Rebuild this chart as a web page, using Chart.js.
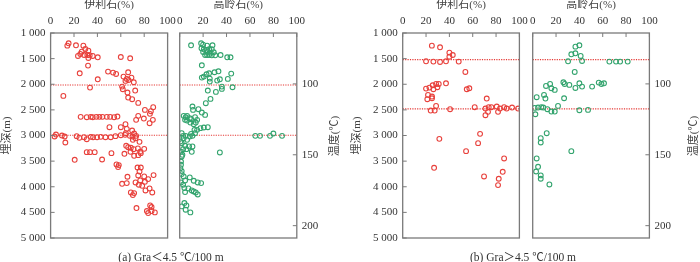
<!DOCTYPE html>
<html><head><meta charset="utf-8">
<script src="https://cdn.jsdelivr.net/npm/chart.js@4.4.0/dist/chart.umd.min.js"></script>
<style>
html,body{margin:0;padding:0;background:#fff;}
#wrap{position:relative;width:700px;height:262px;overflow:hidden;background:#fff;}
canvas{position:absolute;left:0;top:0;}
.t{position:absolute;font-family:'Liberation Serif','Noto Sans CJK SC',serif;font-size:11px;color:#333;white-space:nowrap;text-align:center;line-height:14px;height:14px;}
</style></head><body>
<div id="wrap">
<canvas id="c1" width="700" height="262"></canvas>
<canvas id="c2" width="700" height="262"></canvas>
<canvas id="c3" width="700" height="262"></canvas>
<canvas id="c4" width="700" height="262"></canvas>
<div class="t" id="tA" style="left:303.5px;top:128.5px;width:60px;transform:rotate(-90deg);color:#444;">温度(℃)</div>
<div class="t" id="tB" style="left:663px;top:128.5px;width:60px;transform:rotate(-90deg);color:#444;">温度(℃)</div>
<div class="t" id="capA" style="left:91px;top:249.5px;width:160px;font-size:11.5px;"></div>
<div class="t" id="capB" style="left:443px;top:249.5px;width:160px;font-size:11.5px;"></div>
</div>
<script>
// ---------------- data ----------------
const pctTicks = [0, 20, 40, 60, 80, 100];
const depthTicks = [1000, 1500, 2000, 2500, 3000, 3500, 4000, 4500, 5000];
const tempTicks = [100, 150, 200];
const xTitles = ['伊利石(%)', '高岭石(%)'];
const yTitle = '埋深(m)';
const captions = ['(a) Gra＜4.5 ℃/100 m', '(b) Gra＞4.5 ℃/100 m'];
const refLinesA = [2015, 2995];
const refLinesB = [1520, 2481];

// [percent, depth m]
const illiteA = [[15.4,1201],[14.3,1247],[21.7,1240],[28,1247],[29.7,1312],[26.6,1364],[32.3,1344],[25.4,1409],[28.6,1429],[31.4,1429],[33.4,1435],[36,1448],[40.3,1474],[23.4,1448],[32.3,1487],[60,1468],[68,1494],[32,1636],[24.9,1786],[49.1,1753],[53.4,1773],[56,1799],[66.3,1766],[62.3,1851],[65.1,1896],[69.1,1870],[64,1935],[66.6,1916],[71.1,1961],[40.3,1903],[61.1,2046],[61.7,2098],[72.3,2123],[65.7,2162],[33.7,2065],[10.9,2227],[66.3,2260],[69.7,2292],[74.9,2364],[87.7,2448],[80.6,2500],[85.7,2526],[84.9,2578],[74.9,2617],[79.7,2669],[73.1,2695],[84.6,2760],[87.4,2695],
[25.7,2636],[30.9,2643],[34.3,2636],[36,2643],[39.1,2636],[41.7,2636],[44.3,2636],[48,2636],[50.9,2636],[54.3,2643],[57.1,2630],
[50.3,2838],[64,2779],[60,2838],[65.1,2870],[69.7,2903],[71.4,2961],[64.3,2955],
[3.4,3020],[4.6,2981],[9.7,3000],[12,3020],[12.6,3137],[22.3,3013],[24.6,3046],[28.6,3033],[30.9,3072],[34.3,3026],[36.3,3033],[39.7,3033],[42.9,3026],[46.9,3033],[51.4,3033],[55.4,3013],[60,2994],[63.7,2987],[67.7,3007],[70,3020],[73.1,3007],[70.3,3085],[72.6,3052],[76,3124],
[64.6,3201],[66.3,3227],[68.6,3240],[70.9,3266],[68.3,3318],[74.6,3253],[76.6,3318],[80,3260],[71.4,3396],[74.9,3383],[77.1,3344],[63.1,3357],[52,3344],[30.9,3325],[33.7,3325],[37.7,3325],[20.6,3474],[44,3468],[56.3,3565],[58.3,3578],[57.7,3617],[74.3,3624],[77.1,3624],[76,3701],[74.9,3779],[80,3799],[83.4,3851],[76.6,3877],[72.6,3916],[80.6,3903],[75.4,3961],[78.3,3981],[65.7,3805],[61.1,3942],[65.1,3929],[84.6,4033],[86.9,4111],[81.1,4072],[68.6,4111],[71.4,4124],[70.3,4163],[88,3773],[73.4,4416],[85.1,4364],[86.3,4396],[82.3,4474],[83.4,4513],[86.3,4474],[89.1,4500]];

const kaoliniteA = [[9.7,1240],[18.3,1201],[20,1227],[23.4,1247],[28,1240],[18.6,1299],[20.6,1318],[22.9,1331],[25.1,1318],[27.4,1318],[20,1370],[23.4,1370],[25.7,1383],[29.1,1377],[21.7,1429],[23.4,1429],[25.1,1429],[27.4,1435],[30.3,1435],[34.9,1429],[40.6,1474],[43.4,1474],[18.9,1630],[18.9,1870],[20.6,1851],[22.9,1805],[25.1,1786],[29.7,1766],[33.1,1747],[25.7,1890],[25.7,1948],[32,1929],[34.3,1903],[41.1,1896],[44,1792],[36,2046],[36,2091],[45.1,2059],[30.9,2149],[24,2123],[26.3,2286],[22.3,2370],[10.9,2435],[11.4,2500],[16,2487],[18.9,2552],[3.4,2617],[5.1,2643],[6.3,2617],[8.6,2662],[4.6,2695],[6.3,2708],[9.7,2682],[13.1,2643],[14.9,2695],[21.7,2598],[13.7,2747],[9.1,2747],[12,2779],[17.7,2857],[20.6,2844],[24,2838],[14.9,2890],[12.6,2890],[9.7,2968],[13.1,2955],[1.7,2955],[2.9,3007],[5.1,3007],[8.6,3020],[10.9,3007],[3.4,3052],[6.3,3085],[0.6,3117],[1.7,3150],[4.6,3201],[8,3214],[10.9,3214],[2.9,3266],[5.7,3266],[10.3,3318],[1.1,3318],[2.3,3377],[1.7,3409],[34.3,3331],[1.1,3507],[1.1,3572],[0.6,3637],[1.7,3695],[1.7,3753],[3.4,3799],[8.6,3818],[4.6,3877],[12,3883],[15.4,3916],[18.3,3929],[1.1,3916],[2.9,3961],[4,4026],[7.4,4033],[10.3,4072],[12,4091],[13.7,4111],[15.4,4150],[4.6,4104],[4,4318],[5.7,4364],[1.7,4383],[5.1,4448],[9.1,4500],[64.6,3007],[68.6,3007],[77.1,3007],[80,2961],[87.4,3007]];

const illiteB = [[25,1247],[32,1279],[40,1383],[42.9,1429],[40,1461],[20,1552],[26.3,1558],[32,1565],[37.1,1552],[48,1558],[53.7,1760],[37.1,1981],[20,2085],[22.9,2065],[25.7,2020],[28.6,1994],[30.9,1994],[29.7,2059],[26.3,2098],[54.9,2098],[57.1,2078],[21.7,2208],[21.1,2292],[25.1,2240],[25.1,2273],[28.6,2422],[24,2513],[27.4,2513],[40.6,2487],[61.7,2448],[72,2279],[70.9,2474],[73.7,2448],[76,2448],[73.1,2539],[70.9,2604],[80.6,2435],[81.7,2539],[83.4,2474],[86.9,2448],[89.1,2474],[93.7,2455],[98.9,2474],[31.4,3065],[66.3,2968],[64.6,3149],[54.3,3305],[86.9,3448],[85.7,3708],[69.7,3799],[82.3,3844],[81.7,3968],[26.9,3630]];

const kaoliniteB = [[36.6,1266],[40,1240],[33.1,1416],[36.6,1396],[41.1,1448],[42.3,1545],[30.3,1552],[65.7,1558],[71.4,1558],[74.9,1558],[81.4,1558],[36,1760],[26.3,1961],[27.4,1994],[31.4,2013],[40,1981],[42.3,2046],[36.6,2072],[50.9,2046],[56.6,1968],[58.9,1994],[61.1,1981],[11.4,2033],[14.9,1994],[16,2078],[18.9,2110],[9.7,2208],[10.9,2279],[3.4,2253],[26.9,2273],[21.7,2422],[1.7,2461],[4.6,2455],[7.4,2448],[9.1,2455],[12.6,2487],[16,2533],[18.9,2533],[2.3,2585],[40,2507],[47.4,2500],[12,2955],[6.9,3052],[6.9,3137],[33.1,3305],[3.4,3448],[4.6,3611],[2.9,3702],[6.9,3779],[6.9,3844],[14.3,3955]];

// ---------------- style / layout ----------------
const RED = '#e8413c', GREEN = '#33a46e', LINE_RED = '#e53935';
const TXT = '#333', TTL = '#444', AXC = '#7a7a7a';
const NUMF = "'Liberation Serif','Noto Sans CJK SC',serif";
const TOP = 33, BOTTOM = 238, TMIN = 64.1, TMAX = 208.7;
const fmt = v => String(v).replace(/\B(?=(\d{3})+(?!\d))/g, ' ');

document.getElementById('capA').textContent = captions[0];
document.getElementById('capB').textContent = captions[1];

const frame = {
  id: 'frame',
  afterDatasetsDraw(chart) {
    const {ctx, chartArea: a} = chart;
    ctx.save();
    ctx.strokeStyle = AXC; ctx.lineWidth = 1.3;
    ctx.strokeRect(a.left, a.top, a.right - a.left, a.bottom - a.top);
    ctx.lineWidth = 1;
    Object.values(chart.scales).forEach(s => {
      if (!s.options.display) return;
      s.ticks.forEach(t => {
        const p = s.getPixelForValue(t.value);
        ctx.beginPath();
        if (s.options.position === 'top') { ctx.moveTo(p, a.top); ctx.lineTo(p, a.top + 4); }
        else if (s.options.position === 'left') { ctx.moveTo(a.left, p); ctx.lineTo(a.left + 4, p); }
        else if (s.options.position === 'right') { ctx.moveTo(a.right, p); ctx.lineTo(a.right - 4, p); }
        ctx.stroke();
      });
    });
    ctx.restore();
  }
};

function makeSubplot(id, pts, color, lines, L, R, xTitle, side, axisW, yTitlePad) {
  const datasets = [{
    type: 'scatter',
    data: pts.map(p => ({x: p[0], y: p[1]})),
    borderColor: color, backgroundColor: 'rgba(0,0,0,0)',
    pointRadius: 2.4, pointHoverRadius: 2.4, borderWidth: 1.1, yAxisID: 'y'
  }];
  lines.forEach(d => datasets.push({
    type: 'line', data: [{x: 0, y: d}, {x: 100, y: d}],
    borderColor: LINE_RED, borderWidth: 1.1, borderDash: [1.2, 1.2],
    pointRadius: 0, fill: false, yAxisID: 'y'
  }));
  const showDepth = side === 'left';
  const scales = {
    x: {
      type: 'linear', position: 'top', min: 0, max: 100,
      afterBuildTicks: s => { s.ticks = pctTicks.map(v => ({value: v})); },
      afterFit: s => { s.height = TOP; s.paddingLeft = 0; s.paddingRight = 0; },
      grid: {display: false, drawTicks: false}, border: {display: false},
      ticks: {autoSkip: false, maxRotation: 0, padding: 5, color: TXT, font: {family: NUMF, size: 11}},
      title: {display: true, text: xTitle, color: TTL, font: {family: NUMF, size: 11}, padding: {top: -1.2, bottom: 0}}
    },
    y: {
      type: 'linear', position: 'left', min: 1000, max: 5000, reverse: true,
      display: showDepth,
      afterBuildTicks: s => { s.ticks = depthTicks.map(v => ({value: v})); },
      afterFit: s => { s.width = showDepth ? axisW : 0; s.paddingTop = 0; s.paddingBottom = 0; },
      grid: {display: false, drawTicks: false}, border: {display: false},
      ticks: {autoSkip: false, padding: 5, color: TXT, font: {family: NUMF, size: 11}, callback: v => fmt(v)},
      title: {display: true, text: yTitle, color: TTL, font: {family: NUMF, size: 11}, padding: {top: yTitlePad, bottom: 0}}
    }
  };
  if (side === 'right') {
    scales.yT = {
      type: 'linear', position: 'right', min: TMIN, max: TMAX, reverse: true, display: true,
      afterBuildTicks: s => { s.ticks = tempTicks.map(v => ({value: v})); },
      afterFit: s => { s.width = axisW; s.paddingTop = 0; s.paddingBottom = 0; },
      grid: {display: false, drawTicks: false}, border: {display: false},
      ticks: {autoSkip: false, padding: 5, color: TXT, font: {family: NUMF, size: 11}}
    };
  }
  const padLeft = showDepth ? L - axisW : L;
  const padRight = side === 'right' ? 700 - R - axisW : 700 - R;
  new Chart(document.getElementById(id), {
    type: 'scatter',
    data: {datasets},
    options: {
      responsive: false, animation: false, devicePixelRatio: 1, events: [],
      layout: {padding: {left: padLeft, right: padRight, top: 0, bottom: 262 - BOTTOM}},
      plugins: {legend: {display: false}, tooltip: {enabled: false}},
      scales
    },
    plugins: [frame]
  });
}

makeSubplot('c1', illiteA, RED, refLinesA, 50.6, 167.6, xTitles[0], 'left', 50.6, 0.4);
makeSubplot('c2', kaoliniteA, GREEN, refLinesA, 179.7, 296.8, xTitles[1], 'right', 30, 0);
makeSubplot('c3', illiteB, RED, refLinesB, 402.7, 519.4, xTitles[0], 'left', 50.6, -2);
makeSubplot('c4', kaoliniteB, GREEN, refLinesB, 532.7, 649.4, xTitles[1], 'right', 30, 0);
</script>
</body></html>
